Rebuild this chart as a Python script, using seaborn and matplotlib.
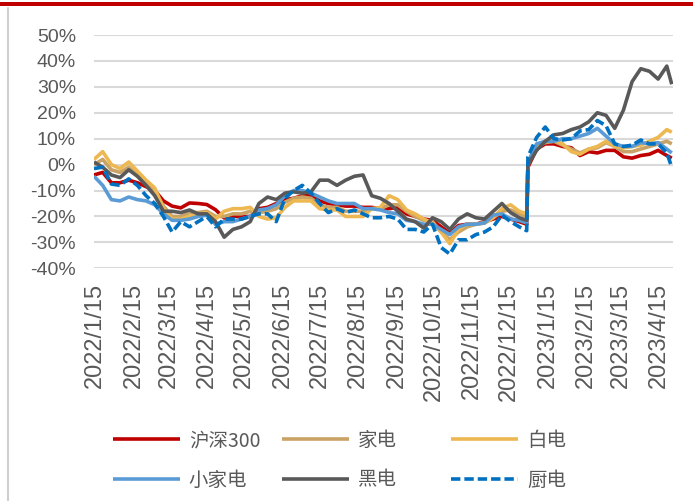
import numpy as np
import pandas as pd
import matplotlib
matplotlib.use("Agg")
import matplotlib.pyplot as plt
import matplotlib.dates as mdates
from matplotlib.patches import Rectangle
from matplotlib.lines import Line2D
from matplotlib.font_manager import FontProperties
import seaborn as sns

# ---------------- data (roughly weekly) ----------------
weekly = pd.date_range("2022-01-14", "2023-04-21", freq="7D")
dates = (weekly[:50]
         .append(pd.DatetimeIndex(["2022-12-29"]))
         .append(weekly[50:])
         .append(pd.DatetimeIndex(["2023-04-25"])))

series_names = ["沪深300", "家电", "白电", "小家电", "黑电", "厨电"]

hs300 = [-4, -3, -7, -7, -6, -7, -8.5, -10, -14, -16,
         -16.7, -14.8, -15, -15.4, -17.4, -20.6, -20, -20, -20, -17,
         -16.5, -15, -13.5, -13, -12, -12, -14, -15, -15.5, -16,
         -16, -16.5, -16.5, -17, -17, -16.5, -19, -20, -21, -21.5,
         -24, -26.5, -23.5, -23, -23, -22, -21, -20, -21, -22,
         -23,
         -1, 6, 8, 8, 7, 6.5, 3.5, 5, 4.5, 5.5,
         5.5, 3, 2.5, 3.5, 4, 5.5, 3.5,
         2.5]

jiadian = [0, 2, -2, -3, -1, -4, -7, -10, -16, -20,
           -20, -18.5, -18.5, -18, -20, -20, -19, -19, -18, -18.5,
           -18, -17, -14.5, -13, -12.5, -13, -15.5, -16.5, -16.5, -18,
           -18, -18, -17, -17, -15.5, -15.5, -18, -20, -21.5, -22,
           -26, -29, -26, -24, -23, -22.5, -20.5, -18, -17.5, -19,
           -20,
           0, 7, 8.5, 9, 7.5, 6, 4.5, 6, 6.5, 8.5,
           7, 5, 5, 6, 7, 8, 9,
           8]

baidian = [2, 5, 0, -1.5, 1, -2.5, -6, -9, -17, -21,
           -21, -20, -19, -18.5, -21, -18, -17, -17, -16.5, -20,
           -21, -20.5, -16.5, -14, -14, -14, -17, -17.5, -17.5, -20,
           -20, -20, -17, -16.5, -12, -13.5, -17.5, -19, -21, -22.5,
           -26, -30.5, -25, -23, -23, -22.5, -20.5, -17, -15.5, -18,
           -19,
           0, 7.5, 9, 9.5, 8, 5, 4, 6, 7, 9,
           7, 6.5, 7, 7.5, 9, 10.5, 13.5,
           12.5]

xiaojiadian = [-4.5, -8, -13.5, -14, -12.5, -13.5, -14, -15.5, -19, -21.5,
               -21.5, -21, -20, -19.5, -23, -22, -22, -21, -20, -17.5,
               -17, -15.5, -12, -10, -10, -11, -12.5, -14, -15, -15,
               -15, -17, -17, -17.5, -18.5, -19, -21.5, -22, -23, -23,
               -25, -27, -24, -23, -23, -22.5, -19.5, -19, -21, -21.5,
               -22.5,
               1, 8, 9, 9, 10, 10, 11, 12, 14, 11,
               8, 7, 7, 8.5, 8, 8.5, 6,
               4.5]

heidian = [1, -1, -4, -5, -2, -4.5, -8, -12, -18, -18,
           -18.5, -17.5, -19, -19, -22, -28, -25, -24, -22, -15,
           -12.5, -13.5, -11, -10.5, -11, -10.5, -6, -6, -8, -6,
           -4.5, -4, -12, -13, -15, -18, -21, -22, -24.5, -20.5,
           -22, -25, -21, -19, -20.5, -21, -18, -15, -18.5, -20.5,
           -21.5,
           0, 5.5, 9, 11.5, 12, 13.5, 14.5, 16.5, 20, 19,
           14, 21, 32, 37, 36, 33, 38,
           31]

chudian = [-1.5, -1, -7.5, -8, -5.5, -8, -12, -15, -20, -26,
           -22, -24, -22, -20, -24, -21, -21, -21, -20, -19,
           -19, -22, -13, -10, -8, -11, -15, -18.5, -17, -18.5,
           -17.5, -19, -20.5, -20.5, -20, -21, -25, -25, -26, -23,
           -32, -34.5, -29, -29, -27, -26, -24, -19.5, -22, -24,
           -25.5,
           3, 10.5, 14.5, 10, 9.5, 10, 13, 13.5, 17, 15,
           8, 7, 7.5, 9.5, 8, 8, 4.5,
           -1]

series_values = [hs300, jiadian, baidian, xiaojiadian, heidian, chudian]
series_colors = ["#C00000", "#C9A265", "#EDB851", "#5B9BD5", "#595959", "#0070C0"]

y_ticks = [-40, -30, -20, -10, 0, 10, 20, 30, 40, 50]
x_tick_labels = ["2022/1/15", "2022/2/15", "2022/3/15", "2022/4/15", "2022/5/15",
                 "2022/6/15", "2022/7/15", "2022/8/15", "2022/9/15", "2022/10/15",
                 "2022/11/15", "2022/12/15", "2023/1/15", "2023/2/15", "2023/3/15",
                 "2023/4/15"]

# ---------------- style ----------------
sns.set_style("white")
plt.rcParams["font.family"] = ["Liberation Sans", "Noto Sans CJK SC", "DejaVu Sans"]
plt.rcParams["axes.unicode_minus"] = False

W, H = 693, 501
fig = plt.figure(figsize=(W / 100, H / 100), dpi=100)
ax = fig.add_axes([94 / W, 1 - 268.3 / H, (673 - 94) / W, (268.3 - 35) / H])

grey_text = "#595959"
lw = 2.6
for name, vals, col in zip(series_names, series_values, series_colors):
    kw = {}
    if name == "厨电":
        kw["linestyle"] = (0, (2.6, 1.1))
    sns.lineplot(x=dates, y=vals, ax=ax, color=col, linewidth=lw,
                 legend=False, label=name, solid_capstyle="butt",
                 dash_capstyle="butt", **kw)

ax.set_ylim(-40, 50)
ax.set_xlim(pd.Timestamp("2022-01-14"), pd.Timestamp("2023-04-26"))
ax.set_yticks(y_ticks)
ax.set_yticklabels([f"{v}%" for v in y_ticks], fontsize=14, color=grey_text)
tick_dates = [pd.Timestamp(s.replace("/", "-")) for s in x_tick_labels]
ax.set_xticks(tick_dates)
ax.set_xticklabels(x_tick_labels, rotation=90, fontsize=17, color=grey_text,
                   ha="center", va="top")
ax.tick_params(axis="both", length=0)
ax.tick_params(axis="y", pad=13)
ax.tick_params(axis="x", pad=10.5)
ax.grid(axis="y", color="#D9D9D9", linewidth=1.5)
ax.grid(axis="x", visible=False)
ax.set_axisbelow(True)
for s in ax.spines.values():
    s.set_visible(False)
ax.set_xlabel("")
ax.set_ylabel("")

# ---------------- legend (fixed grid like the original) ----------------
lines = ax.get_lines()
legend_font = FontProperties(family=["Noto Sans CJK SC"], size=14)
col_x = [113, 282, 451]
row_y = [440.7, 480]
for i, (ln, name) in enumerate(zip(lines, series_names)):
    r, c = divmod(i, 3)
    lg = fig.legend(handles=[ln], labels=[name], loc="center left",
                    bbox_to_anchor=(col_x[c] / W, 1 - row_y[r] / H),
                    frameon=False, borderpad=0, borderaxespad=0,
                    handlelength=3.45, handletextpad=0.45, prop=legend_font,
                    labelcolor=grey_text)

# ---------------- decorations ----------------
fig.add_artist(Rectangle((0, 1 - 6.2 / H), 1, 4.6 / H, transform=fig.transFigure,
                         color="#C00000", lw=0))
fig.add_artist(Line2D([8 / W, 8 / W], [0, 1 - 8 / H], transform=fig.transFigure,
                      color="#CFCFCF", linewidth=1.5))

fig.savefig("out.png", dpi=100)
